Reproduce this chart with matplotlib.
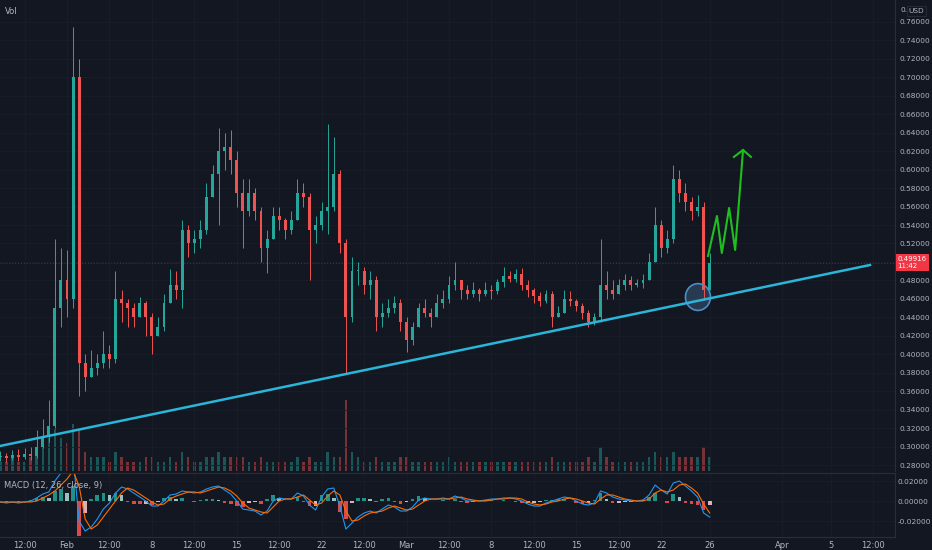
import pandas as pd
import matplotlib
matplotlib.use('Agg')
import matplotlib.pyplot as plt
import matplotlib.dates as mdates
from matplotlib.patches import Ellipse

# 12h candles, Jan 26 12:00 -> Mar 26
first_open = 0.289
closes = [0.290, 0.288, 0.291, 0.289, 0.292, 0.290, 0.300, 0.310, 0.322, 0.450,
          0.480, 0.460, 0.700, 0.390, 0.375, 0.385, 0.390, 0.400, 0.395, 0.460,
          0.455, 0.450, 0.440, 0.455, 0.440, 0.420, 0.430, 0.455, 0.475, 0.470,
          0.535, 0.520, 0.525, 0.535, 0.570, 0.595, 0.620, 0.625, 0.610, 0.575,
          0.555, 0.575, 0.555, 0.515, 0.525, 0.550, 0.545, 0.535, 0.545, 0.575,
          0.570, 0.535, 0.540, 0.555, 0.560, 0.595, 0.520, 0.440, 0.490, 0.490,
          0.475, 0.480, 0.440, 0.445, 0.450, 0.455, 0.435, 0.415, 0.430, 0.450,
          0.445, 0.440, 0.455, 0.460, 0.475, 0.480, 0.470, 0.465, 0.470, 0.465,
          0.470, 0.468, 0.478, 0.485, 0.482, 0.487, 0.475, 0.470, 0.463, 0.458,
          0.465, 0.440, 0.445, 0.460, 0.458, 0.452, 0.445, 0.435, 0.440, 0.475,
          0.470, 0.465, 0.475, 0.480, 0.475, 0.477, 0.480, 0.500, 0.540, 0.515,
          0.525, 0.590, 0.575, 0.565, 0.555, 0.560, 0.470, 0.499]
highs = [0.295, 0.293, 0.296, 0.297, 0.298, 0.300, 0.318, 0.330, 0.350, 0.525,
         0.515, 0.513, 0.755, 0.720, 0.400, 0.405, 0.400, 0.425, 0.410, 0.490,
         0.470, 0.460, 0.455, 0.462, 0.458, 0.445, 0.440, 0.465, 0.492, 0.490,
         0.545, 0.540, 0.535, 0.545, 0.585, 0.605, 0.645, 0.640, 0.643, 0.620,
         0.590, 0.590, 0.580, 0.560, 0.535, 0.560, 0.560, 0.548, 0.555, 0.590,
         0.585, 0.575, 0.550, 0.565, 0.650, 0.635, 0.600, 0.525, 0.505, 0.500,
         0.495, 0.490, 0.485, 0.455, 0.460, 0.463, 0.460, 0.440, 0.435, 0.455,
         0.460, 0.450, 0.465, 0.470, 0.485, 0.500, 0.480, 0.475, 0.478, 0.472,
         0.478, 0.475, 0.482, 0.495, 0.490, 0.492, 0.493, 0.480, 0.472, 0.467,
         0.470, 0.468, 0.452, 0.470, 0.468, 0.460, 0.455, 0.448, 0.445, 0.525,
         0.490, 0.480, 0.482, 0.487, 0.485, 0.482, 0.487, 0.510, 0.560, 0.545,
         0.535, 0.605, 0.600, 0.585, 0.570, 0.572, 0.565, 0.510]
lows = [0.284, 0.283, 0.285, 0.284, 0.286, 0.285, 0.288, 0.298, 0.305, 0.320,
        0.430, 0.440, 0.450, 0.355, 0.360, 0.375, 0.378, 0.385, 0.385, 0.390,
        0.435, 0.430, 0.430, 0.440, 0.420, 0.400, 0.420, 0.425, 0.455, 0.460,
        0.450, 0.505, 0.510, 0.515, 0.530, 0.570, 0.540, 0.600, 0.595, 0.560,
        0.515, 0.550, 0.545, 0.500, 0.488, 0.525, 0.535, 0.525, 0.530, 0.545,
        0.560, 0.480, 0.520, 0.535, 0.530, 0.555, 0.510, 0.380, 0.435, 0.475,
        0.465, 0.460, 0.425, 0.430, 0.440, 0.445, 0.425, 0.402, 0.410, 0.430,
        0.440, 0.430, 0.440, 0.450, 0.455, 0.470, 0.460, 0.460, 0.462, 0.458,
        0.463, 0.460, 0.465, 0.473, 0.478, 0.478, 0.470, 0.462, 0.455, 0.452,
        0.455, 0.430, 0.440, 0.445, 0.452, 0.447, 0.438, 0.430, 0.432, 0.435,
        0.460, 0.460, 0.465, 0.470, 0.470, 0.473, 0.472, 0.480, 0.500, 0.505,
        0.510, 0.520, 0.565, 0.555, 0.545, 0.550, 0.459, 0.470]
volumes = [2, 2, 3, 2, 2, 3, 5, 6, 7, 9,
           7, 6, 10, 9, 4, 3, 3, 3, 2, 4,
           3, 2, 2, 2, 3, 3, 2, 2, 3, 2,
           4, 3, 2, 2, 3, 3, 4, 3, 3, 3,
           3, 2, 2, 3, 2, 2, 2, 2, 2, 3,
           2, 3, 2, 2, 4, 3, 3, 15, 4, 3,
           2, 2, 3, 2, 2, 2, 3, 3, 2, 2,
           2, 2, 2, 2, 3, 2, 2, 2, 2, 2,
           2, 2, 2, 2, 2, 2, 2, 2, 2, 2,
           2, 3, 2, 2, 2, 2, 2, 3, 2, 5,
           3, 2, 2, 2, 2, 2, 2, 3, 4, 3,
           3, 4, 3, 3, 3, 3, 5, 3]
macd = [-0.001, -0.002, -0.001, -0.002, -0.001, 0.000, 0.003, 0.007, 0.009, 0.020,
        0.028, 0.030, 0.045, -0.020, -0.030, -0.026, -0.018, -0.008, -0.002, 0.008,
        0.014, 0.012, 0.008, 0.004, 0.000, -0.005, -0.005, 0.000, 0.006, 0.007,
        0.010, 0.009, 0.008, 0.009, 0.012, 0.014, 0.015, 0.011, 0.007, 0.000,
        -0.008, -0.009, -0.010, -0.014, -0.010, 0.000, 0.003, 0.002, 0.002, 0.008,
        0.005, -0.004, -0.009, 0.004, 0.012, 0.013, -0.005, -0.028, -0.022, -0.016,
        -0.012, -0.010, -0.012, -0.008, -0.004, -0.006, -0.010, -0.010, -0.006, 0.001,
        0.003, 0.002, 0.002, 0.003, 0.002, 0.005, 0.003, 0.000, 0.000, 0.000,
        0.001, 0.002, 0.002, 0.003, 0.003, 0.002, 0.000, -0.003, -0.005, -0.005,
        -0.002, 0.000, 0.002, 0.004, 0.003, 0.000, -0.003, -0.004, -0.002, 0.010,
        0.008, 0.004, 0.002, 0.001, 0.000, 0.000, 0.001, 0.006, 0.016, 0.011,
        0.007, 0.018, 0.020, 0.015, 0.010, 0.004, -0.012, -0.016]
signal = [-0.001, -0.001, -0.001, -0.001, -0.001, -0.001, 0.000, 0.003, 0.006, 0.010,
          0.016, 0.022, 0.030, 0.015, -0.018, -0.028, -0.024, -0.016, -0.008, 0.000,
          0.008, 0.013, 0.011, 0.007, 0.003, -0.001, -0.004, -0.003, 0.002, 0.005,
          0.007, 0.009, 0.009, 0.008, 0.010, 0.012, 0.014, 0.013, 0.010, 0.005,
          -0.002, -0.007, -0.009, -0.011, -0.012, -0.006, 0.000, 0.002, 0.002, 0.004,
          0.006, 0.001, -0.004, -0.002, 0.005, 0.010, 0.006, -0.010, -0.020, -0.019,
          -0.015, -0.012, -0.011, -0.010, -0.007, -0.005, -0.007, -0.009, -0.008, -0.004,
          0.000, 0.002, 0.002, 0.002, 0.002, 0.003, 0.004, 0.002, 0.001, 0.000,
          0.000, 0.001, 0.002, 0.002, 0.003, 0.003, 0.002, -0.001, -0.003, -0.004,
          -0.003, -0.001, 0.000, 0.002, 0.003, 0.002, 0.000, -0.002, -0.003, 0.002,
          0.006, 0.006, 0.004, 0.002, 0.001, 0.000, 0.000, 0.002, 0.008, 0.011,
          0.009, 0.011, 0.016, 0.017, 0.013, 0.008, -0.003, -0.012]
last_price = 0.49916

# drawings on the chart
trend_dates = ['2021-01-26 11:25', '2021-04-08 05:15']
trend_prices = [0.3006, 0.4967]
zigzag_dates = ['2021-03-25 20:40', '2021-03-26 14:25', '2021-03-27 00:00',
                '2021-03-27 14:25', '2021-03-28 02:25', '2021-03-28 18:00']
zigzag_prices = [0.5065, 0.5498, 0.5097, 0.5585, 0.5130, 0.6213]
head_dates = ['2021-03-28 00:00', '2021-03-28 18:00', '2021-03-29 09:35']
head_prices = [0.6138, 0.6213, 0.6138]
circle_date = '2021-03-25 00:45'
circle_price = 0.462

tick_dates = ['2021-01-28 12:00', '2021-02-01 00:00', '2021-02-04 12:00', '2021-02-08 00:00',
              '2021-02-11 12:00', '2021-02-15 00:00', '2021-02-18 12:00', '2021-02-22 00:00',
              '2021-02-25 12:00', '2021-03-01 00:00', '2021-03-04 12:00', '2021-03-08 00:00',
              '2021-03-11 12:00', '2021-03-15 00:00', '2021-03-18 12:00', '2021-03-22 00:00',
              '2021-03-26 00:00', '2021-04-01 00:00', '2021-04-05 00:00', '2021-04-08 12:00']
tick_labels = ['12:00', 'Feb', '12:00', '8', '12:00', '15', '12:00', '22', '12:00', 'Mar',
               '12:00', '8', '12:00', '15', '12:00', '22', '26', 'Apr', '5', '12:00']
price_ticks = [0.28, 0.30, 0.32, 0.34, 0.36, 0.38, 0.40, 0.42, 0.44, 0.46, 0.48, 0.50,
               0.52, 0.54, 0.56, 0.58, 0.60, 0.62, 0.64, 0.66, 0.68, 0.70, 0.72, 0.74, 0.76]
macd_ticks = [-0.02, 0.0, 0.02]

bg = '#131722'
grid = '#1a1e29'
border = '#2a2e39'
txt = '#b2b5be'
up = '#26a69a'
down = '#ef5350'

dates = pd.date_range('2021-01-26 12:00', periods=len(closes), freq='12h')
opens = [first_open] + closes[:-1]
colors = [up if c >= o else down for o, c in zip(opens, closes)]

fig = plt.figure(figsize=(9.32, 5.5), dpi=100, facecolor=bg)
rect = [0, 0.1436, 0.9603, 0.8564]
ax_vol = fig.add_axes(rect)
ax = fig.add_axes(rect, sharex=ax_vol)
ax_macd = fig.add_axes([0, 0.0236, 0.9603, 0.1164], sharex=ax_vol)
ax_vol.set_facecolor(bg)
ax.set_facecolor('none')
ax_macd.set_facecolor(bg)

# volume
ax_vol.bar(dates, volumes, width=0.2, color=colors, alpha=0.45)
ax_vol.set_ylim(0, 100)
ax_vol.axis('off')

# candles
ax.vlines(dates, lows, highs, colors=colors, linewidth=0.7)
bottoms = [min(o, c) for o, c in zip(opens, closes)]
heights = [max(abs(c - o), 0.001) for o, c in zip(opens, closes)]
ax.bar(dates, heights, bottom=bottoms, width=0.24, color=colors)

ax.axhline(last_price, color=down, alpha=0.35, linewidth=0.7, linestyle=(0, (1, 2)))
ax.plot(pd.to_datetime(trend_dates), trend_prices, color='#29b6d8', linewidth=1.8)
ax.plot(pd.to_datetime(zigzag_dates), zigzag_prices, color='#1fbf1f', linewidth=1.5)
ax.plot(pd.to_datetime(head_dates), head_prices, color='#1fbf1f', linewidth=1.5)
ell = Ellipse((mdates.date2num(pd.Timestamp(circle_date)), circle_price), width=2.06, height=0.029,
              facecolor=(0.35, 0.55, 0.75, 0.3), edgecolor='#4a8fc4', linewidth=1.2)
ax.add_patch(ell)

ax.set_xlim(pd.Timestamp('2021-01-26 11:25'), pd.Timestamp('2021-04-10 06:45'))
ax.set_ylim(0.2735, 0.7838)
ax.yaxis.tick_right()
ax.set_yticks(price_ticks)
# 0.50000 sits under the last-price tag
ax.set_yticklabels(['' if p == 0.50 else '%.5f' % p for p in price_ticks])
ax.tick_params(axis='y', length=0, pad=3, labelsize=5.3, labelcolor=txt)
ax.tick_params(axis='x', length=0, labelbottom=False)
ax.set_xticks(pd.to_datetime(tick_dates))
ax.grid(True, color=grid, linewidth=0.6)
ax.set_axisbelow(True)
for s in ['top', 'left', 'bottom']:
    ax.spines[s].set_visible(False)
ax.spines['right'].set_color(border)

ax.text(1.003, last_price, '%.5f\n11:42' % last_price, transform=ax.get_yaxis_transform(),
        fontsize=5, color='white', va='center', ha='left', linespacing=1.1,
        bbox=dict(boxstyle='square,pad=0.3', facecolor='#f23645', edgecolor='none'))
ax.text(0.005, 0.985, 'Vol', transform=ax.transAxes, fontsize=6, color=txt, va='top')
fig.text(0.966, 0.988, '0.', fontsize=5.3, color=txt, va='top')
fig.text(0.975, 0.986, 'USD', fontsize=5.3, color=txt, va='top',
         bbox=dict(boxstyle='square,pad=0.25', facecolor=bg, edgecolor=border, linewidth=0.6))

# macd pane
hist = [m - s for m, s in zip(macd, signal)]
hist_colors = []
for i, h in enumerate(hist):
    prev = hist[i - 1] if i > 0 else 0
    if h >= 0:
        hist_colors.append('#26a69a' if h >= prev else '#b2dfdb')
    else:
        hist_colors.append('#ff5252' if h < prev else '#ffcdd2')
ax_macd.bar(dates, hist, width=0.3, color=hist_colors, alpha=0.85)
ax_macd.plot(dates, macd, color='#2196f3', linewidth=0.8)
ax_macd.plot(dates, signal, color='#ff6d00', linewidth=0.8)
ax_macd.set_ylim(-0.036, 0.028)
ax_macd.yaxis.tick_right()
ax_macd.set_yticks(macd_ticks)
ax_macd.set_yticklabels(['-0.02000', '0.00000', '0.02000'])
ax_macd.tick_params(axis='y', length=0, pad=2, labelsize=5.3, labelcolor=txt)
ax_macd.set_xticks(pd.to_datetime(tick_dates))
ax_macd.set_xticklabels(tick_labels)
ax_macd.tick_params(axis='x', length=0, pad=3, labelsize=6, labelcolor=txt)
ax_macd.grid(True, color=grid, linewidth=0.6)
ax_macd.set_axisbelow(True)
ax_macd.spines['left'].set_visible(False)
for s in ['top', 'right', 'bottom']:
    ax_macd.spines[s].set_color(border)
ax_macd.text(0.005, 0.88, 'MACD (12, 26, close, 9)', transform=ax_macd.transAxes,
             fontsize=6, color=txt, va='top')

fig.savefig('out.png', dpi=100, facecolor=bg)
